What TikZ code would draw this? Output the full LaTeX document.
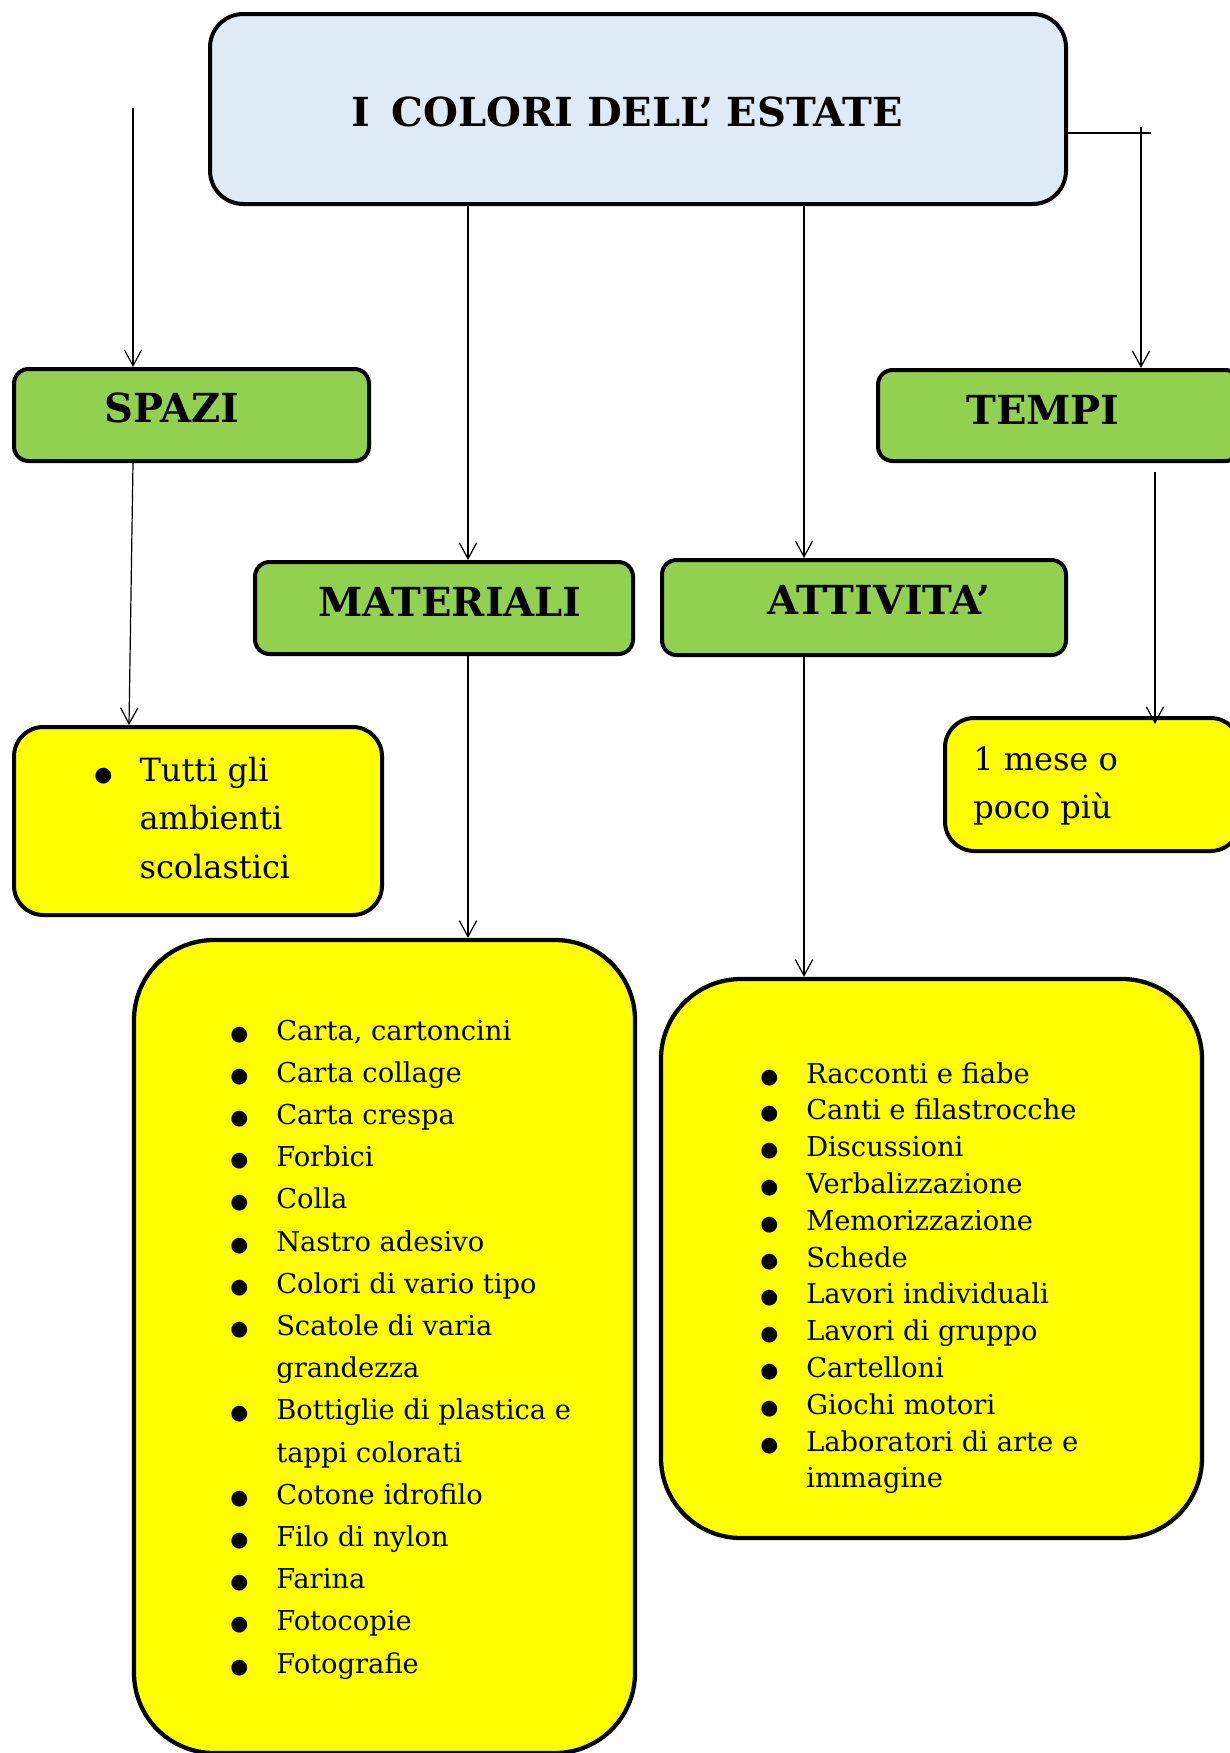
\documentclass[tikz,border=0pt]{standalone}
\usepackage{fontspec}
\setmainfont{DejaVu Serif}
\newfontfamily\symf{DejaVu Sans}
\usetikzlibrary{arrows.meta,fit,calc}
\definecolor{titlebg}{HTML}{DEEAF6}
\definecolor{hdrgreen}{HTML}{92D050}
\definecolor{boxyellow}{HTML}{FFFF00}
\newcommand\bul{{\symf\fontsize{15.5}{15.5}\selectfont ●}}
\newcommand\itm[2]{\makebox[#1][l]{\bul}#2}
\begin{document}
\begin{tikzpicture}[x=0.75pt,y=-0.75pt,
  boxbase/.style={draw=black, line width=3pt, inner sep=0pt},
  titlebox/.style={boxbase, fill=titlebg, rounded corners=25pt},
  hdrbox/.style={boxbase, fill=hdrgreen, rounded corners=11pt},
  smallbox/.style={boxbase, fill=boxyellow, rounded corners=22pt},
  bigbox/.style={boxbase, fill=boxyellow, rounded corners=60pt, line width=3.2pt},
  hdrtext/.style={font=\fontsize{30}{36}\selectfont\bfseries, inner sep=0pt},
  listtext/.style={anchor=base west, inner sep=0pt},
  conn/.style={draw=black, line width=0.9pt, -{Straight Barb[length=12pt,width=13pt]}},
]
\useasboundingbox (0,0) rectangle (1230,1753);

% boxes
\node[titlebox, fit={(210,14) (1066,204)}] (title) {};
\node[hdrbox, fit={(14,369) (369,461)}] (spazi) {};
\node[hdrbox, fit={(878,370) (1240,461)}] (tempi) {};
\node[hdrbox, fit={(255,562) (633,654)}] (mat) {};
\node[hdrbox, fit={(662,560) (1066,655)}] (att) {};
\node[smallbox, fit={(14,727) (382,915)}] (spaziy) {};
\node[smallbox, fit={(945,718) (1240,851)}] (tempiy) {};
\node[bigbox, fit={(134,940) (635,1753)}] (maty) {};
\node[bigbox, fit={(661,979) (1202,1538)}] (atty) {};

% headings
\node[hdrtext] (titlet) at (627,112) {I\hspace{0.55em}COLORI DELL’ ESTATE};
\node[hdrtext] (spazit) at (172,408) {SPAZI};
\node[hdrtext] (tempit) at (1043,410) {TEMPI};
\node[hdrtext] (matt) at (450,602) {MATERIALI};
\node[hdrtext] (attt) at (879,600) {ATTIVITA’};

% lists
\node[listtext, font=\fontsize{24}{36.4}\selectfont] (spazil) at (94,781)
 {\begin{tabular}[t]{@{}l@{}}
 \itm{34pt}{Tutti gli}\\
 \hspace*{34pt}ambienti\\
 \hspace*{34pt}scolastici
 \end{tabular}};
\node[listtext, font=\fontsize{24}{36}\selectfont] (tempil) at (973,770)
 {\begin{tabular}[t]{@{}l@{}}
 1 mese o\\
 poco più
 \end{tabular}};
\node[listtext, font=\fontsize{20.5}{31.65}\selectfont] (matl) at (230,1040)
 {\begin{tabular}[t]{@{}l@{}}
 \itm{34.5pt}{Carta, cartoncini}\\
 \itm{34.5pt}{Carta collage}\\
 \itm{34.5pt}{Carta crespa}\\
 \itm{34.5pt}{Forbici}\\
 \itm{34.5pt}{Colla}\\
 \itm{34.5pt}{Nastro adesivo}\\
 \itm{34.5pt}{Colori di vario tipo}\\
 \itm{34.5pt}{Scatole di varia}\\
 \hspace*{34.5pt}grandezza\\
 \itm{34.5pt}{Bottiglie di plastica e}\\
 \hspace*{34.5pt}tappi colorati\\
 \itm{34.5pt}{Cotone idrofilo}\\
 \itm{34.5pt}{Filo di nylon}\\
 \itm{34.5pt}{Farina}\\
 \itm{34.5pt}{Fotocopie}\\
 \itm{34.5pt}{Fotografie}
 \end{tabular}};
\node[listtext, font=\fontsize{20.5}{27.6}\selectfont] (attl) at (760,1083)
 {\begin{tabular}[t]{@{}l@{}}
 \itm{34.5pt}{Racconti e fiabe}\\
 \itm{34.5pt}{Canti e filastrocche}\\
 \itm{34.5pt}{Discussioni}\\
 \itm{34.5pt}{Verbalizzazione}\\
 \itm{34.5pt}{Memorizzazione}\\
 \itm{34.5pt}{Schede}\\
 \itm{34.5pt}{Lavori individuali}\\
 \itm{34.5pt}{Lavori di gruppo}\\
 \itm{34.5pt}{Cartelloni}\\
 \itm{34.5pt}{Giochi motori}\\
 \itm{34.5pt}{Laboratori di arte e}\\
 \hspace*{34.5pt}immagine
 \end{tabular}};

% connectors
\coordinate (ls) at (133,108);
\coordinate (xm) at (468,0);
\coordinate (xa) at (804,0);
\coordinate (rc) at (1151,133);
\coordinate (rt) at (1141,127);
\coordinate (s1) at (133,0);
\coordinate (s2) at (129,0);
\coordinate (tt) at (1155,472);

\draw[conn] (ls) -- (spazi.north -| ls);
\draw[conn] (title.south -| xm) -- (mat.north -| xm);
\draw[conn] (title.south -| xa) -- (att.north -| xa);
\draw[line width=2.2pt] (title.east |- rc) -- (rc);
\draw[conn] (rt) -- (tempi.north -| rt);
\draw[conn] (spazi.south -| s1) -- (spaziy.north -| s2);
\draw[conn] (mat.south -| xm) -- (maty.north -| xm);
\draw[conn] (att.south -| xa) -- (atty.north -| xa);
\draw[conn] (tt) -- ($(tempiy.north -| tt)+(0,8)$);
\end{tikzpicture}
\end{document}
